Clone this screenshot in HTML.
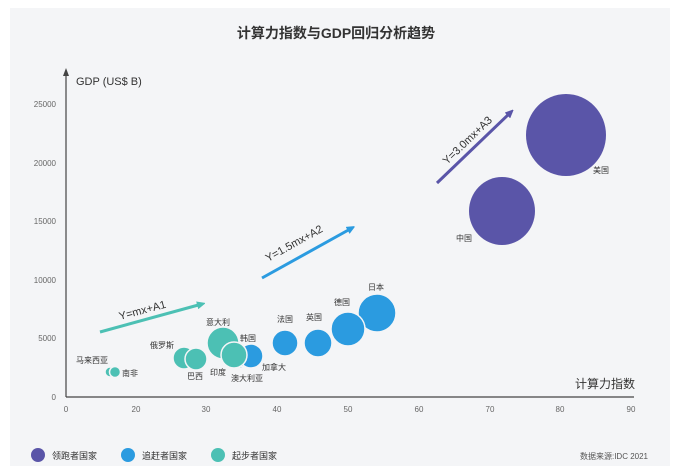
<!DOCTYPE html><html><head><meta charset="utf-8"><style>body{margin:0;background:#fff;width:673px;height:470px;overflow:hidden}</style></head><body>
<svg width="673" height="470" style="position:absolute;left:0;top:0" font-family="'Liberation Sans','Noto Sans CJK SC',sans-serif">
<defs>
<marker id="mt" markerWidth="8" markerHeight="8" refX="5" refY="4" orient="auto" markerUnits="userSpaceOnUse"><path d="M0,0 L9,4 L0,8z" fill="#4cc0b4"/></marker>
<marker id="mb" markerWidth="8" markerHeight="8" refX="5" refY="4" orient="auto" markerUnits="userSpaceOnUse"><path d="M0,0 L9,4 L0,8z" fill="#2b9be0"/></marker>
<marker id="mp" markerWidth="8" markerHeight="8" refX="5" refY="4" orient="auto" markerUnits="userSpaceOnUse"><path d="M0,0 L9,4 L0,8z" fill="#5a55a8"/></marker>
</defs>
<rect x="10" y="8" width="660" height="458" fill="#f4f5f7"/>
<text x="336" y="38" text-anchor="middle" font-size="14" font-weight="bold" fill="#333">计算力指数与GDP回归分析趋势</text>
<line x1="66" y1="397" x2="66" y2="72" stroke="#444" stroke-width="1.2"/>
<path d="M63,76 L66,68 L69,76z" fill="#444"/>
<text x="76" y="85" font-size="11" fill="#333">GDP (US$ B)</text>
<line x1="66" y1="397" x2="634" y2="397" stroke="#444" stroke-width="1.2"/>
<g font-size="8" fill="#666" text-anchor="end">
<text x="56" y="107">25000</text><text x="56" y="166">20000</text><text x="56" y="224">15000</text><text x="56" y="283">10000</text><text x="56" y="341">5000</text><text x="56" y="400">0</text></g>
<g font-size="8" fill="#666" text-anchor="middle">
<text x="66" y="412">0</text><text x="136" y="412">20</text><text x="206" y="412">30</text><text x="277" y="412">40</text><text x="348" y="412">50</text><text x="419" y="412">60</text><text x="490" y="412">70</text><text x="560" y="412">80</text><text x="631" y="412">90</text></g>
<text x="635" y="388" text-anchor="end" font-size="12" fill="#333">计算力指数</text>
<line x1="100" y1="332" x2="202" y2="304" stroke="#4cc0b4" stroke-width="3" marker-end="url(#mt)"/>
<text transform="translate(120,320) rotate(-15)" font-size="11" fill="#333">Y=mx+A1</text>
<line x1="262" y1="278" x2="352" y2="228" stroke="#2b9be0" stroke-width="3" marker-end="url(#mb)"/>
<text transform="translate(268,262) rotate(-29)" font-size="11" fill="#333">Y=1.5mx+A2</text>
<line x1="437" y1="183" x2="511" y2="112" stroke="#5a55a8" stroke-width="3" marker-end="url(#mp)"/>
<text transform="translate(447,165) rotate(-44)" font-size="11" fill="#333">Y=3.0mx+A3</text>
<g fill="#5a55a8"><ellipse cx="566" cy="135" rx="40" ry="41"/><ellipse cx="502" cy="211" rx="33" ry="34"/></g>
<g fill="#2b9be0" stroke="#f4f5f7" stroke-width="1.5">
<circle cx="377" cy="313" r="19"/><circle cx="348" cy="329" r="17"/><circle cx="318" cy="343" r="14"/><circle cx="285" cy="343" r="13"/>
<circle cx="241" cy="358" r="10"/><circle cx="245" cy="357" r="10"/><circle cx="251" cy="356" r="12"/></g>
<g fill="#4cc0b4" stroke="#f4f5f7" stroke-width="1.5">
<circle cx="184" cy="358" r="11"/><circle cx="196" cy="359" r="11"/><circle cx="223" cy="343" r="16"/><circle cx="234" cy="355" r="13"/>
<circle cx="110" cy="372" r="5"/><circle cx="115" cy="372" r="5.5"/></g>
<g font-size="8" fill="#333">
<text x="593" y="173">美国</text><text x="456" y="241">中国</text><text x="368" y="290">日本</text><text x="334" y="305">德国</text><text x="306" y="320">英国</text><text x="277" y="322">法国</text>
<text x="240" y="341">韩国</text><text x="262" y="370">加拿大</text><text x="231" y="381">澳大利亚</text><text x="210" y="375">印度</text><text x="187" y="379">巴西</text>
<text x="206" y="325">意大利</text><text x="150" y="348">俄罗斯</text><text x="76" y="363">马来西亚</text><text x="122" y="376">南非</text></g>
<circle cx="38" cy="455" r="7" fill="#5a55a8"/><text x="52" y="459" font-size="9" fill="#333">领跑者国家</text>
<circle cx="128" cy="455" r="7" fill="#2b9be0"/><text x="142" y="459" font-size="9" fill="#333">追赶者国家</text>
<circle cx="218" cy="455" r="7" fill="#4cc0b4"/><text x="232" y="459" font-size="9" fill="#333">起步者国家</text>
<text x="648" y="459" text-anchor="end" font-size="8" fill="#555">数据来源:IDC 2021</text>
</svg></body></html>
